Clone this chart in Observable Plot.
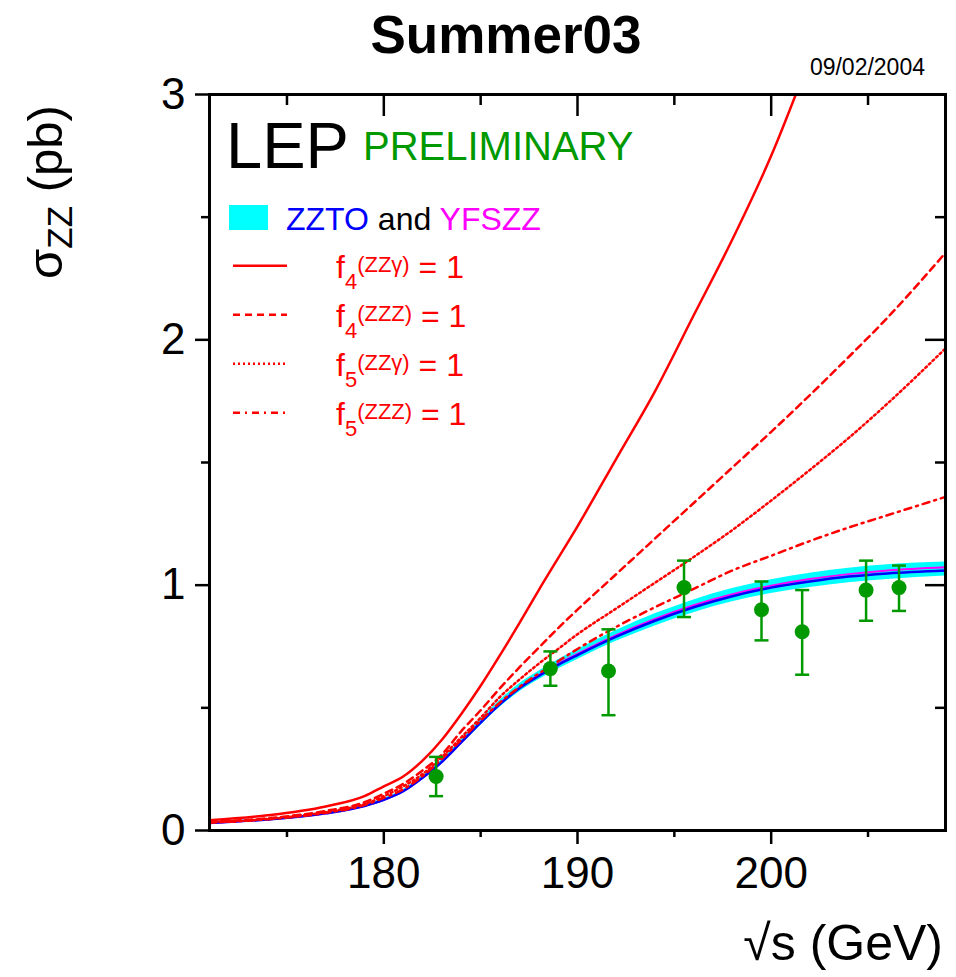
<!DOCTYPE html>
<html><head><meta charset="utf-8">
<script src="https://cdn.jsdelivr.net/npm/d3@7"></script>
<script src="https://cdn.jsdelivr.net/npm/@observablehq/plot@0.6"></script>
<style>
html,body{margin:0;padding:0;background:#fff;overflow:hidden;}
svg text{white-space:pre;}
</style></head><body><div id="chart"></div>
<script>
// ---- data ----
const energies = [171,174,177,179,180,181,182,183,184,185,186,187,188,189,190,192,194,196,198,200,202,204,206,209];
const zzto     = [0.031,0.045,0.070,0.100,0.125,0.160,0.215,0.280,0.360,0.440,0.515,0.580,0.630,0.675,0.715,0.790,0.855,0.910,0.955,0.990,1.015,1.035,1.048,1.060];
const yfszz    = [0.031,0.045,0.070,0.100,0.125,0.160,0.215,0.280,0.360,0.442,0.518,0.583,0.633,0.679,0.720,0.796,0.862,0.918,0.963,0.998,1.025,1.045,1.060,1.073];
const bandLow  = [0.028,0.042,0.066,0.095,0.119,0.153,0.207,0.271,0.349,0.428,0.502,0.565,0.614,0.658,0.697,0.771,0.834,0.888,0.932,0.966,0.991,1.010,1.023,1.037];
const bandHigh = [0.034,0.048,0.074,0.105,0.131,0.167,0.223,0.289,0.371,0.454,0.531,0.598,0.649,0.696,0.738,0.815,0.883,0.940,0.986,1.022,1.049,1.069,1.083,1.094];
const f4zzz    = [0.035,0.050,0.080,0.115,0.150,0.190,0.245,0.310,0.405,0.490,0.580,0.665,0.745,0.825,0.900,1.045,1.190,1.335,1.480,1.625,1.775,1.930,2.090,2.355];
const f5zzg    = [0.033,0.047,0.075,0.108,0.140,0.180,0.230,0.300,0.380,0.460,0.545,0.615,0.680,0.740,0.800,0.905,1.010,1.115,1.225,1.345,1.470,1.600,1.740,1.965];
const f5zzz    = [0.032,0.046,0.072,0.104,0.133,0.168,0.222,0.292,0.370,0.448,0.522,0.585,0.640,0.690,0.740,0.830,0.910,0.985,1.060,1.120,1.180,1.235,1.285,1.360];
const f4zzgEnergies = [171,174,177,179,180,181,182,183,184,185,186,187,188,189,190,192,194,196,198,200,202];
const f4zzg         = [0.042,0.062,0.098,0.140,0.180,0.220,0.285,0.370,0.475,0.590,0.715,0.845,0.980,1.110,1.240,1.515,1.790,2.100,2.410,2.750,3.150];

const dataE     = [182.7,188.6,191.6,195.5,199.5,201.6,204.9,206.6];
const dataSigma = [0.22,0.66,0.65,0.99,0.90,0.81,0.98,0.99];
const dataHigh  = [0.30,0.73,0.82,1.10,1.015,0.98,1.10,1.08];
const dataLow   = [0.14,0.59,0.47,0.87,0.775,0.635,0.855,0.895];

const xMajor = [180,190,200];
const xMinor = [175,185,195,205];
const yMajor = [0,1,2,3];
const yMinor = [0.5,1.5,2.5];

// ---- tables ----
const rows = energies.map((e,i)=>({e, zzto:zzto[i], yfszz:yfszz[i], lo:bandLow[i], hi:bandHigh[i], f4z:f4zzz[i], f5g:f5zzg[i], f5z:f5zzz[i]}));
const rowsF4g = f4zzgEnergies.map((e,i)=>({e, v:f4zzg[i]}));
const pts = dataE.map((e,i)=>({e, s:dataSigma[i], hi:dataHigh[i], lo:dataLow[i]}));

const F = "'Liberation Sans', Arial, Helvetica, sans-serif";
const RED = "#ff0000", GREEN = "#009900";
const DASH = "7,5", DOT = "2,3", DASHDOT = "7,5,2,5";
const capSymbol = {draw(ctx){ ctx.moveTo(-7,0); ctx.lineTo(7,0); }};
const fmt = d => String(d);

const plot = Plot.plot({
  width: 956, height: 977,
  marginLeft: 209, marginRight: 11, marginTop: 94, marginBottom: 147,
  x: {domain:[171,209]},
  y: {domain:[0,3]},
  style: {fontFamily: F, background: "white", color: "black"},
  marks: [
    Plot.areaY(rows, {x:"e", y1:"lo", y2:"hi", fill:"#00ffff", curve:"monotone-x"}),
    Plot.line(rows, {x:"e", y:"yfszz", stroke:"#ff00ff", strokeWidth:2, curve:"monotone-x"}),
    Plot.line(rows, {x:"e", y:"zzto", stroke:"#0000ff", strokeWidth:2.5, curve:"monotone-x"}),
    Plot.line(rows, {x:"e", y:"f5z", stroke:RED, strokeWidth:2.5, strokeDasharray:DASHDOT, curve:"monotone-x"}),
    Plot.line(rows, {x:"e", y:"f5g", stroke:RED, strokeWidth:2.5, strokeDasharray:DOT, curve:"monotone-x"}),
    Plot.line(rows, {x:"e", y:"f4z", stroke:RED, strokeWidth:2.5, strokeDasharray:DASH, curve:"monotone-x"}),
    Plot.line(rowsF4g, {x:"e", y:"v", stroke:RED, strokeWidth:2.5, curve:"monotone-x", clip:true}),
    Plot.ruleX(pts, {x:"e", y1:"lo", y2:"hi", stroke:GREEN, strokeWidth:2.5}),
    Plot.dot(pts, {x:"e", y:"lo", symbol:capSymbol, fill:"none", stroke:GREEN, strokeWidth:2.5}),
    Plot.dot(pts, {x:"e", y:"hi", symbol:capSymbol, fill:"none", stroke:GREEN, strokeWidth:2.5}),
    Plot.dot(pts, {x:"e", y:"s", r:7.5, fill:GREEN, stroke:"none"}),
    Plot.frame({stroke:"black", strokeWidth:3}),
    Plot.axisX(xMajor, {anchor:"bottom", tickSize:14, tickPadding:12, fontSize:44, strokeWidth:2.5, label:null, tickFormat:fmt}),
    Plot.axisX(xMinor, {anchor:"bottom", tickSize:7, fill:"none", strokeWidth:2.5, label:null}),
    Plot.axisX(xMajor, {anchor:"top", tickSize:21, dy:21, fill:"none", strokeWidth:2.5, label:null}),
    Plot.axisX(xMinor, {anchor:"top", tickSize:10, dy:10, fill:"none", strokeWidth:2.5, label:null}),
    Plot.axisY(yMajor, {anchor:"left", tickSize:14, tickPadding:10, fontSize:44, strokeWidth:2.5, label:null, tickFormat:fmt}),
    Plot.axisY(yMinor, {anchor:"left", tickSize:8, fill:"none", strokeWidth:2.5, label:null}),
    Plot.axisY(yMajor, {anchor:"right", tickSize:21, dx:-21, fill:"none", strokeWidth:2.5, label:null}),
    Plot.axisY(yMinor, {anchor:"right", tickSize:11, dx:-11, fill:"none", strokeWidth:2.5, label:null})
  ]
});
document.getElementById("chart").appendChild(plot);

// ---- annotations ----
const svg = d3.select(plot);
const g = svg.append("g").attr("font-family", F).attr("text-anchor","start");

g.append("text").attr("x",506).attr("y",53).attr("text-anchor","middle")
  .attr("font-size",53).attr("font-weight","bold").text("Summer03");
g.append("text").attr("x",925).attr("y",75).attr("text-anchor","end")
  .attr("font-size",23).text("09/02/2004");

g.append("text").attr("x",226).attr("y",168).attr("font-size",65).text("LEP");
g.append("text").attr("x",363).attr("y",159.5).attr("font-size",40).attr("fill",GREEN).text("PRELIMINARY");

g.append("rect").attr("x",229).attr("y",205).attr("width",39).attr("height",25).attr("fill","#00ffff");
const t1 = g.append("text").attr("x",286).attr("y",230).attr("font-size",32);
t1.append("tspan").attr("fill","#0000ff").text("ZZTO");
t1.append("tspan").attr("fill","black").text(" and ");
t1.append("tspan").attr("fill","#ff00ff").text("YFSZZ");

const legendRows = [
  {sub:"4", sup:"(ZZγ)", dash:null},
  {sub:"4", sup:"(ZZZ)", dash:DASH},
  {sub:"5", sup:"(ZZγ)", dash:DOT},
  {sub:"5", sup:"(ZZZ)", dash:DASHDOT}
];
legendRows.forEach((r,i)=>{
  const yl = 265.7 + i*49;
  const ln = g.append("line").attr("x1",233).attr("x2",287).attr("y1",yl).attr("y2",yl)
    .attr("stroke",RED).attr("stroke-width",2.5);
  if (r.dash) ln.attr("stroke-dasharray", r.dash);
  const t = g.append("text").attr("x",336).attr("y",yl+12.5).attr("font-size",32).attr("fill",RED);
  t.append("tspan").text("f");
  t.append("tspan").attr("font-size",22).attr("dy",11).text(r.sub);
  t.append("tspan").attr("font-size",22).attr("dy",-17).text(r.sup);
  t.append("tspan").attr("dy",6).text(" = 1");
});

const ylab = g.append("text").attr("transform","translate(62,192) rotate(-90)")
  .attr("text-anchor","middle").attr("font-size",49);
ylab.append("tspan").text("σ");
ylab.append("tspan").attr("font-size",35).attr("dy",10).text("ZZ");
ylab.append("tspan").attr("dy",-10).text(" (pb)");

g.append("text").attr("x",943).attr("y",960).attr("text-anchor","end")
  .attr("font-size",50).text("√s (GeV)");
</script>
</body></html>
